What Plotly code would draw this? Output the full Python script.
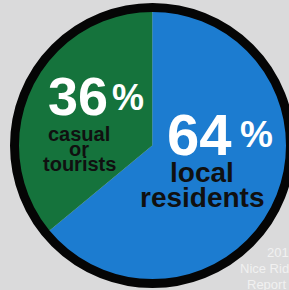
import plotly.graph_objects as go

# Data
labels = ["local residents", "casual or tourists"]
values = [64, 36]
slice_colors = ["#1c7cd0", "#15733c"]
label_lines = [["local", "residents"], ["casual", "or", "tourists"]]
footnote_lines = ["2012", "Nice Ride", "Report"]

W, H = 289, 290
BG = "#dadadb"


def px(x):
    return x / W


def py(y):
    return 1 - y / H


# pie geometry (pixels)
cx, cy, r = 152.5, 145.5, 137.0

fig = go.Figure()
fig.add_trace(go.Pie(
    labels=labels,
    values=values,
    sort=False,
    direction="clockwise",
    rotation=0,
    marker=dict(colors=slice_colors, line=dict(width=0)),
    textinfo="none",
    hoverinfo="label+percent",
    showlegend=False,
    domain=dict(x=[px(cx - r), min(1.0, px(cx + r))],
                y=[py(cy + r), py(cy - r)]),
))

# black outer ring
ring_r = 138.0
fig.add_shape(type="circle", xref="paper", yref="paper",
              x0=px(cx - ring_r), x1=px(cx + ring_r),
              y0=py(cy + ring_r), y1=py(cy - ring_r),
              line=dict(color="#050505", width=9), fillcolor="rgba(0,0,0,0)")

FONT = "Liberation Sans, Arial, sans-serif"
ann = []


def add_text(text, x, y, size, color, bold=True):
    ann.append(dict(text=f"<b>{text}</b>" if bold else text,
                    x=px(x), y=py(y), xref="paper", yref="paper",
                    xanchor="center", yanchor="middle", showarrow=False,
                    font=dict(family=FONT, size=size, color=color)))


# 36% casual or tourists
add_text(f"{values[1]}", 77.5, 96, 54, "white")
add_text("%", 127.5, 97.5, 36, "white")
for line, yy in zip(label_lines[1], [134, 149, 164]):
    add_text(line, 79, yy, 20, "#101010")

# 64% local residents
add_text(f"{values[0]}", 200, 134.5, 58, "white")
add_text("%", 256, 134, 37, "white")
for line, yy in zip(label_lines[0], [172, 197]):
    add_text(line, 202, yy, 28, "#101010")

# faint background caption
for line, (xx, yy) in zip(footnote_lines, [(265, 252), (238, 268), (245, 284)]):
    ann.append(dict(text=line, x=px(xx), y=py(yy), xref="paper", yref="paper",
                    xanchor="left", yanchor="middle", showarrow=False,
                    font=dict(family="Liberation Sans Narrow, Liberation Sans, sans-serif",
                              size=13, color="#f1f1f1")))

fig.update_layout(
    width=W, height=H,
    margin=dict(l=0, r=0, t=0, b=0),
    paper_bgcolor=BG,
    plot_bgcolor=BG,
    annotations=ann,
)

fig.write_html(
    "out.html",
    config={"displayModeBar": False},
    post_script="document.body.style.margin='0';document.body.style.overflow='hidden';",
)
